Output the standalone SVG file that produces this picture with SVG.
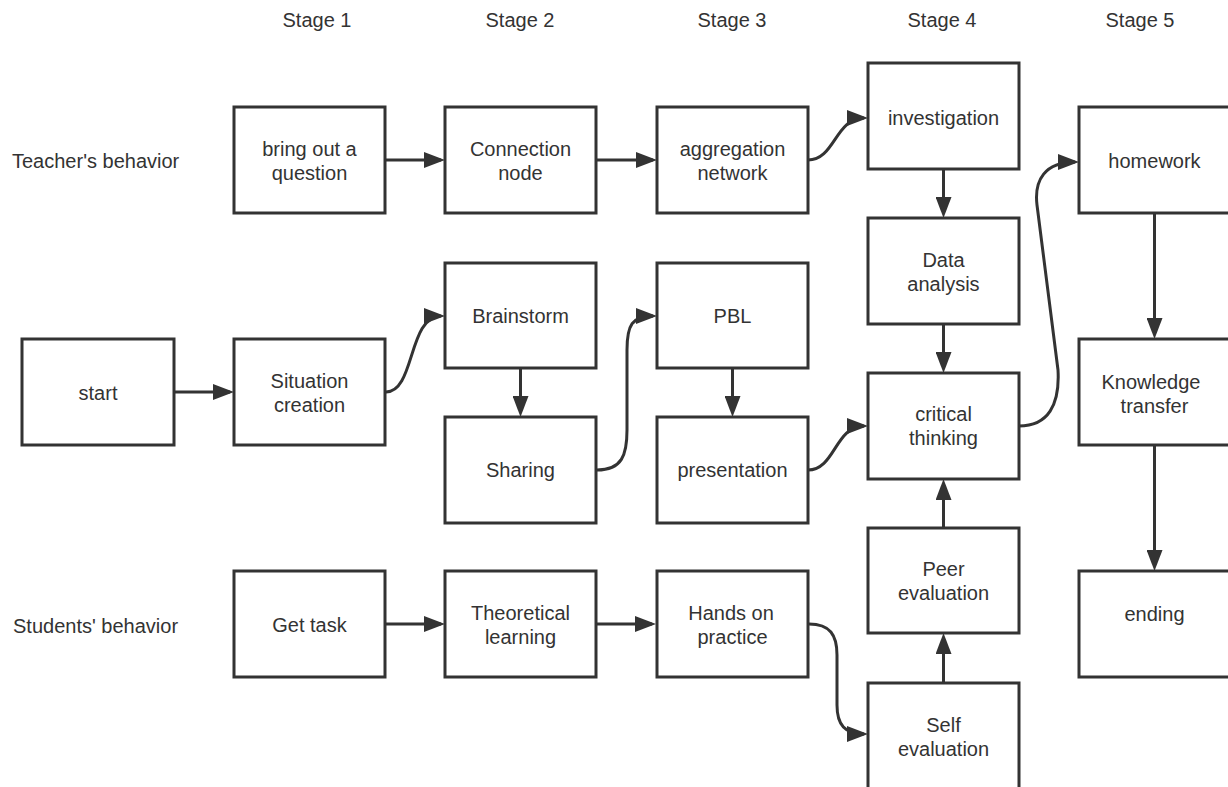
<svg xmlns="http://www.w3.org/2000/svg" width="1228" height="787" viewBox="0 0 1228 787">
<style>
.box{fill:#fff;stroke:#333;stroke-width:3}
text{font-family:"Liberation Sans",Arial,sans-serif;font-size:20px;fill:#333;text-anchor:middle;dominant-baseline:central}
.lbl{text-anchor:start}
.c{fill:none;stroke:#333;stroke-width:3;marker-end:url(#ah)}
</style>
<defs>
<marker id="ah" viewBox="0 0 21 16" refX="17" refY="8" markerWidth="21" markerHeight="16" markerUnits="userSpaceOnUse" orient="auto">
<path d="M0,0 L21,8 L0,16 z" fill="#333"/>
</marker>
</defs>
<rect width="1228" height="787" fill="#fff"/>
<g id="headers">
<text x="317" y="20">Stage 1</text>
<text x="520" y="20">Stage 2</text>
<text x="732" y="20">Stage 3</text>
<text x="942" y="20">Stage 4</text>
<text x="1140" y="20">Stage 5</text>
<text class="lbl" x="12" y="161">Teacher's behavior</text>
<text class="lbl" x="13" y="626">Students' behavior</text>
</g>
<g id="connectors">
<path class="c" d="M174,392 L230,392"/>
<path class="c" d="M385,160 L441,160"/>
<path class="c" d="M597,160 L653,160"/>
<path class="c" d="M386,624 L441,624"/>
<path class="c" d="M597,624 L652,624"/>
<path class="c" d="M943.5,169 L943.5,214"/>
<path class="c" d="M943.5,324 L943.5,369"/>
<path class="c" d="M520.5,368 L520.5,413"/>
<path class="c" d="M732.5,368 L732.5,413"/>
<path class="c" d="M943.5,528 L943.5,483"/>
<path class="c" d="M943.5,683 L943.5,637"/>
<path class="c" d="M1154.5,213 L1154.5,335"/>
<path class="c" d="M1154.5,445 L1154.5,567"/>
<path class="c" d="M386,392 C415,392 408,316 441,316"/>
<path class="c" d="M808,160 C835,160 835,118 864,118"/>
<path class="c" d="M597,470 C622,470 627,455 627,430 L627,350 C627,325 632,316 653,316"/>
<path class="c" d="M808,470 C835,470 835,426 864,426"/>
<path class="c" d="M1019,426 C1048,426 1060,405 1058,370 L1037,205 C1034,180 1045,162 1075,162"/>
<path class="c" d="M809,624 C830,624 837,635 837,655 L837,705 C837,725 845,734 864,734"/>
</g>
<g id="n_bring"><rect class="box" x="234" y="107" width="151" height="106"/><text x="309.5" y="149">bring out a</text><text x="309.5" y="173">question</text></g>
<g id="n_conn"><rect class="box" x="445" y="107" width="151" height="106"/><text x="520.5" y="149">Connection</text><text x="520.5" y="173">node</text></g>
<g id="n_aggr"><rect class="box" x="657" y="107" width="151" height="106"/><text x="732.5" y="149">aggregation</text><text x="732.5" y="173">network</text></g>
<g id="n_invest"><rect class="box" x="868" y="63" width="151" height="106"/><text x="943.5" y="118">investigation</text></g>
<g id="n_home"><rect class="box" x="1079" y="107" width="151" height="106"/><text x="1154.5" y="161">homework</text></g>
<g id="n_data"><rect class="box" x="868" y="218" width="151" height="106"/><text x="943.5" y="260">Data</text><text x="943.5" y="284">analysis</text></g>
<g id="n_start"><rect class="box" x="22" y="339" width="152" height="106"/><text x="98" y="393">start</text></g>
<g id="n_situ"><rect class="box" x="234" y="339" width="151" height="106"/><text x="309.5" y="381">Situation</text><text x="309.5" y="405">creation</text></g>
<g id="n_brain"><rect class="box" x="445" y="263" width="151" height="105"/><text x="520.5" y="316">Brainstorm</text></g>
<g id="n_share"><rect class="box" x="445" y="417" width="151" height="106"/><text x="520.5" y="470">Sharing</text></g>
<g id="n_pbl"><rect class="box" x="657" y="263" width="151" height="105"/><text x="732.5" y="316">PBL</text></g>
<g id="n_pres"><rect class="box" x="657" y="417" width="151" height="106"/><text x="732.5" y="470">presentation</text></g>
<g id="n_crit"><rect class="box" x="868" y="373" width="151" height="106"/><text x="943.5" y="414">critical</text><text x="943.5" y="438">thinking</text></g>
<g id="n_know"><rect class="box" x="1079" y="339" width="151" height="106"/><text x="1151" y="382">Knowledge</text><text x="1154.5" y="406">transfer</text></g>
<g id="n_peer"><rect class="box" x="868" y="528" width="151" height="105"/><text x="943.5" y="569">Peer</text><text x="943.5" y="593">evaluation</text></g>
<g id="n_end"><rect class="box" x="1079" y="571" width="151" height="106"/><text x="1154.5" y="614">ending</text></g>
<g id="n_get"><rect class="box" x="234" y="571" width="151" height="106"/><text x="309.5" y="625">Get task</text></g>
<g id="n_theo"><rect class="box" x="445" y="571" width="151" height="106"/><text x="520.5" y="613">Theoretical</text><text x="520.5" y="637">learning</text></g>
<g id="n_hands"><rect class="box" x="657" y="571" width="151" height="106"/><text x="731" y="613">Hands on</text><text x="732.5" y="637">practice</text></g>
<g id="n_self"><rect class="box" x="868" y="683" width="151" height="107"/><text x="943.5" y="725">Self</text><text x="943.5" y="749">evaluation</text></g>
</svg>
